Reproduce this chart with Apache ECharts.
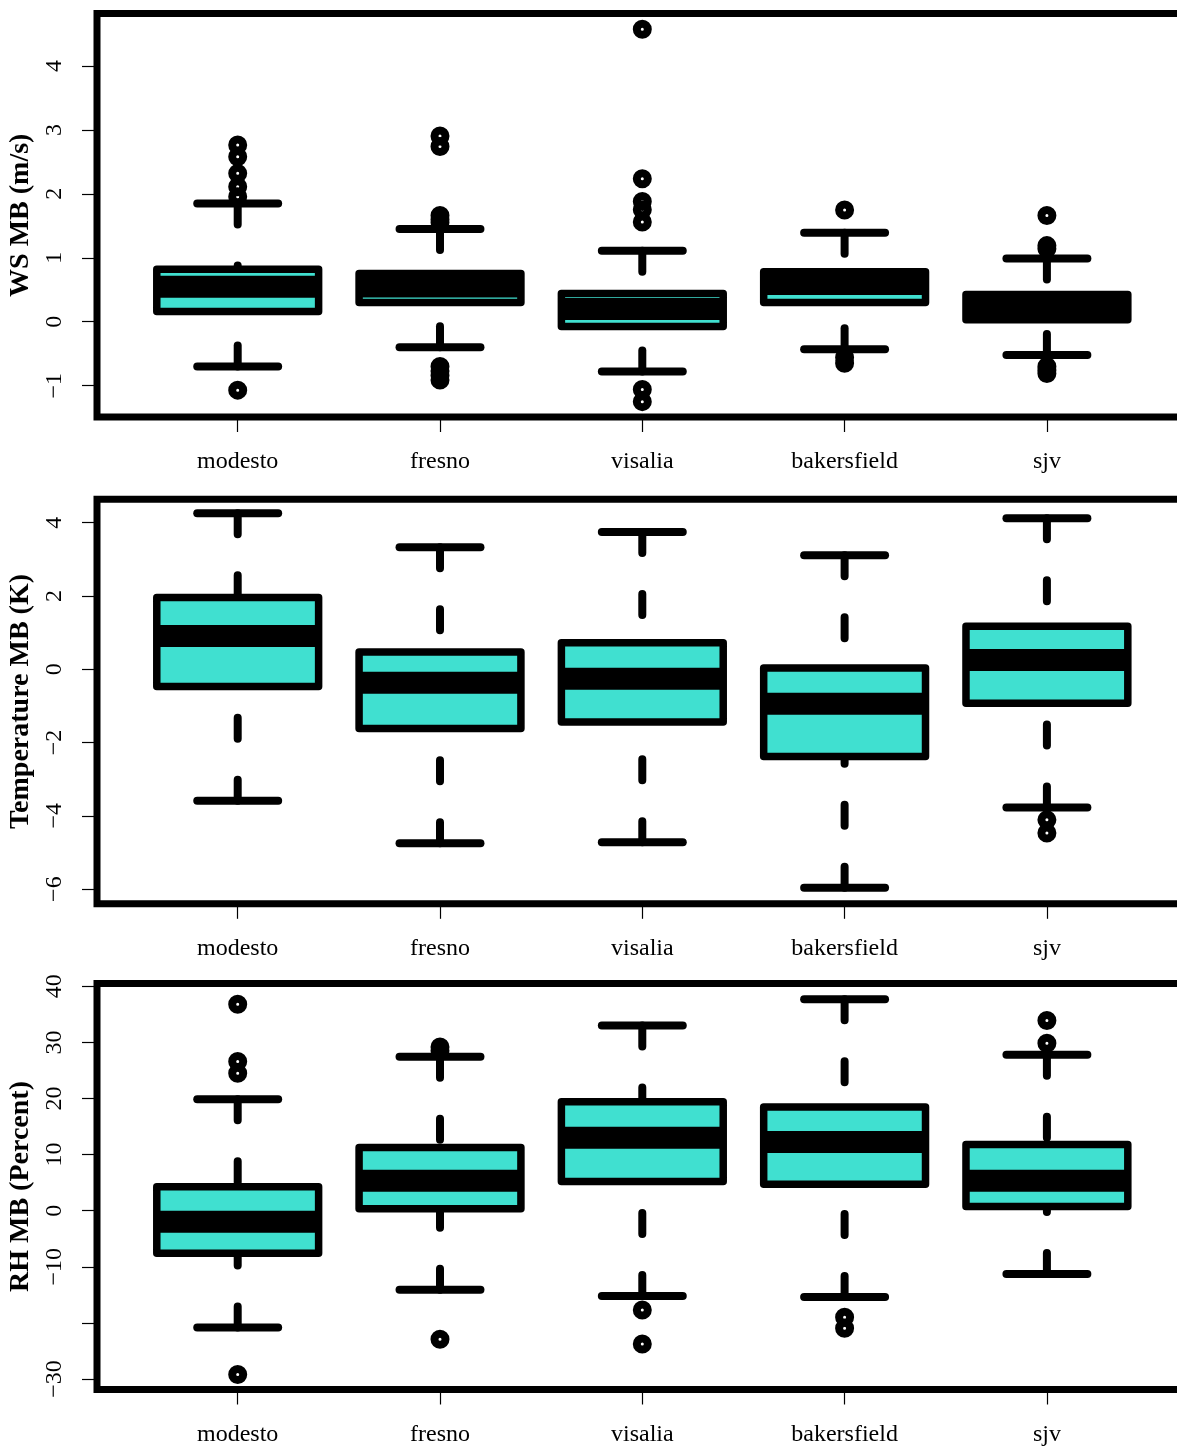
<!DOCTYPE html>
<html><head><meta charset="utf-8">
<script src="https://cdn.jsdelivr.net/npm/echarts@6/dist/echarts.min.js"></script>
<style>html,body{margin:0;padding:0;background:#fff}#c{width:1177px;height:1446px}</style>
</head><body><div id="c"></div>
<script>
// ---------------- data ----------------
const categories = ['modesto', 'fresno', 'visalia', 'bakersfield', 'sjv'];
// five-number summaries per category: [lower whisker, Q1, median, Q3, upper whisker]
const wsStats = [
  [-0.70, 0.16, 0.545, 0.82, 1.85],
  [-0.40, 0.30, 0.55, 0.754, 1.45],
  [-0.78, -0.075, 0.20, 0.44, 1.11],
  [-0.43, 0.30, 0.59, 0.78, 1.39],
  [-0.52, 0.03, 0.23, 0.425, 0.99]
];
const wsOutliers = [
  [2.765, 2.58, 2.32, 2.11, 1.955, -1.07],
  [2.905, 2.74, 1.66, 1.60, 1.55, -0.70, -0.77, -0.84, -0.91],
  [4.575, 2.235, 1.88, 1.75, 1.56, -1.06, -1.25],
  [1.747, -0.56, -0.65],
  [1.66, 1.19, 1.14, -0.70, -0.76, -0.81]
];
const tempStats = [
  [-3.585, -0.47, 0.91, 1.96, 4.255],
  [-4.75, -1.62, -0.37, 0.47, 3.33],
  [-4.72, -1.44, -0.26, 0.72, 3.745],
  [-5.96, -2.38, -0.94, 0.035, 3.11],
  [-3.775, -0.93, 0.25, 1.17, 4.12]
];
const tempOutliers = [[], [], [], [], [-4.11, -4.47]];
const rhStats = [
  [-20.8, -7.58, -1.96, 4.26, 19.85],
  [-14.1, 0.34, 5.35, 11.27, 27.45],
  [-15.2, 5.2, 13.0, 19.4, 33.0],
  [-15.4, 4.7, 12.25, 18.5, 37.7],
  [-11.3, 0.75, 5.35, 11.8, 27.8]
];
const rhOutliers = [
  [36.8, 26.6, 24.5, -29.2],
  [29.2, 28.5, -22.9],
  [-17.7, -23.76],
  [-19.0, -20.96],
  [33.9, 29.85]
];
const wsTicks = [-1, 0, 1, 2, 3, 4];
const tempTicks = [-6, -4, -2, 0, 2, 4];
const rhTicks = [-30, -20, -10, 0, 10, 20, 30, 40];
const rhTickLabels = [-30, -10, 0, 10, 20, 30, 40];
const axisTitles = ['WS MB (m/s)', 'Temperature MB (K)', 'RH MB (Percent)'];

// ---------------- styling / layout ----------------
const FONT = "'Liberation Serif', 'Times New Roman', serif";
const FILL = '#40E0D0';
const BOX_WEX = 0.8, STAPLE_WEX = 0.4;
const panels = [
  { stats: wsStats, out: wsOutliers, ticks: wsTicks, labels: wsTicks, min: -1.49, max: 4.82, top: 13.5, height: 403.5 },
  { stats: tempStats, out: tempOutliers, ticks: tempTicks, labels: tempTicks, min: -6.40, max: 4.64, top: 499.2, height: 404.6 },
  { stats: rhStats, out: rhOutliers, ticks: rhTicks, labels: rhTickLabels, min: -31.87, max: 40.5, top: 983.5, height: 406 }
];
const catPositions = categories.map((c, i) => i + 1);

function renderBox(params, api) {
  const x = api.value(0);
  const c = k => api.coord([x, api.value(k)]);
  const pLo = c(1), pQ1 = c(2), pMed = c(3), pQ3 = c(4), pHi = c(5);
  const cx = pQ1[0];
  const half = api.size([BOX_WEX, 0])[0] / 2;
  const sHalf = api.size([STAPLE_WEX, 0])[0] / 2;
  const dash = { stroke: '#000', lineWidth: 8, lineCap: 'round', lineDash: [21, 41], fill: null };
  const solid = { stroke: '#000', lineWidth: 8, lineCap: 'round', fill: null };
  return {
    type: 'group',
    children: [
      { type: 'line', shape: { x1: cx, y1: pLo[1], x2: cx, y2: pQ1[1] }, style: dash },
      { type: 'line', shape: { x1: cx, y1: pHi[1], x2: cx, y2: pQ3[1] }, style: dash },
      { type: 'line', shape: { x1: cx - sHalf, y1: pLo[1], x2: cx + sHalf, y2: pLo[1] }, style: solid },
      { type: 'line', shape: { x1: cx - sHalf, y1: pHi[1], x2: cx + sHalf, y2: pHi[1] }, style: solid },
      { type: 'rect', shape: { x: cx - half, y: pQ3[1], width: 2 * half, height: pQ1[1] - pQ3[1] },
        style: { fill: FILL, stroke: '#000', lineWidth: 7.5, lineJoin: 'round' } },
      { type: 'line', shape: { x1: cx - half, y1: pMed[1], x2: cx + half, y2: pMed[1] },
        style: { stroke: '#000', lineWidth: 22, lineCap: 'butt', fill: null } }
    ]
  };
}

const fmtNum = v => (v < 0 ? '\u2212' + Math.abs(v) : String(v));

const grid = [], xAxis = [], yAxis = [], series = [];
panels.forEach((p, i) => {
  grid.push({
    left: 97, top: p.top, width: 1090.6, height: p.height,
    show: true, borderColor: '#000', borderWidth: 7, backgroundColor: 'transparent',
    containLabel: false, outerBoundsMode: 'none'
  });
  xAxis.push({
    gridIndex: i, type: 'value', min: 0.3045, max: 5.6955, position: 'bottom',
    axisLine: { show: false, onZero: false }, splitLine: { show: false },
    axisTick: { show: true, length: 15, customValues: catPositions, lineStyle: { color: '#000', width: 1.2 } },
    axisLabel: { show: true, customValues: catPositions, margin: 33, fontFamily: FONT, fontSize: 24, color: '#000',
      formatter: v => categories[Math.round(v) - 1] }
  });
  yAxis.push({
    gridIndex: i, type: 'value', min: p.min, max: p.max, position: 'left',
    name: axisTitles[i], nameLocation: 'middle', nameGap: 57,
    nameTextStyle: { fontFamily: FONT, fontWeight: 'bold', fontSize: 28, color: '#000' },
    axisLine: { show: false, onZero: false }, splitLine: { show: false },
    axisTick: { show: true, length: 15, customValues: p.ticks, lineStyle: { color: '#000', width: 1.2 } },
    axisLabel: { show: true, customValues: p.labels, rotate: 90, margin: 30, fontFamily: FONT, fontSize: 24, color: '#000',
      formatter: fmtNum }
  });
  series.push({
    type: 'custom', xAxisIndex: i, yAxisIndex: i, silent: true, z: 2,
    data: p.stats.map((s, j) => [catPositions[j]].concat(s)),
    encode: { x: 0, y: [1, 2, 3, 4, 5] },
    renderItem: renderBox
  });
  const pts = [];
  p.out.forEach((arr, j) => arr.forEach(v => pts.push([catPositions[j], v])));
  series.push({
    type: 'scatter', xAxisIndex: i, yAxisIndex: i, silent: true, z: 3,
    data: pts, symbol: 'circle', symbolSize: 11,
    itemStyle: { color: 'rgba(0,0,0,0)', borderColor: '#000', borderWidth: 8, opacity: 1 }
  });
});

const chart = echarts.init(document.getElementById('c'), null, { renderer: 'canvas' });
chart.setOption({ animation: false, backgroundColor: '#fff', grid, xAxis, yAxis, series });
</script>
</body></html>
